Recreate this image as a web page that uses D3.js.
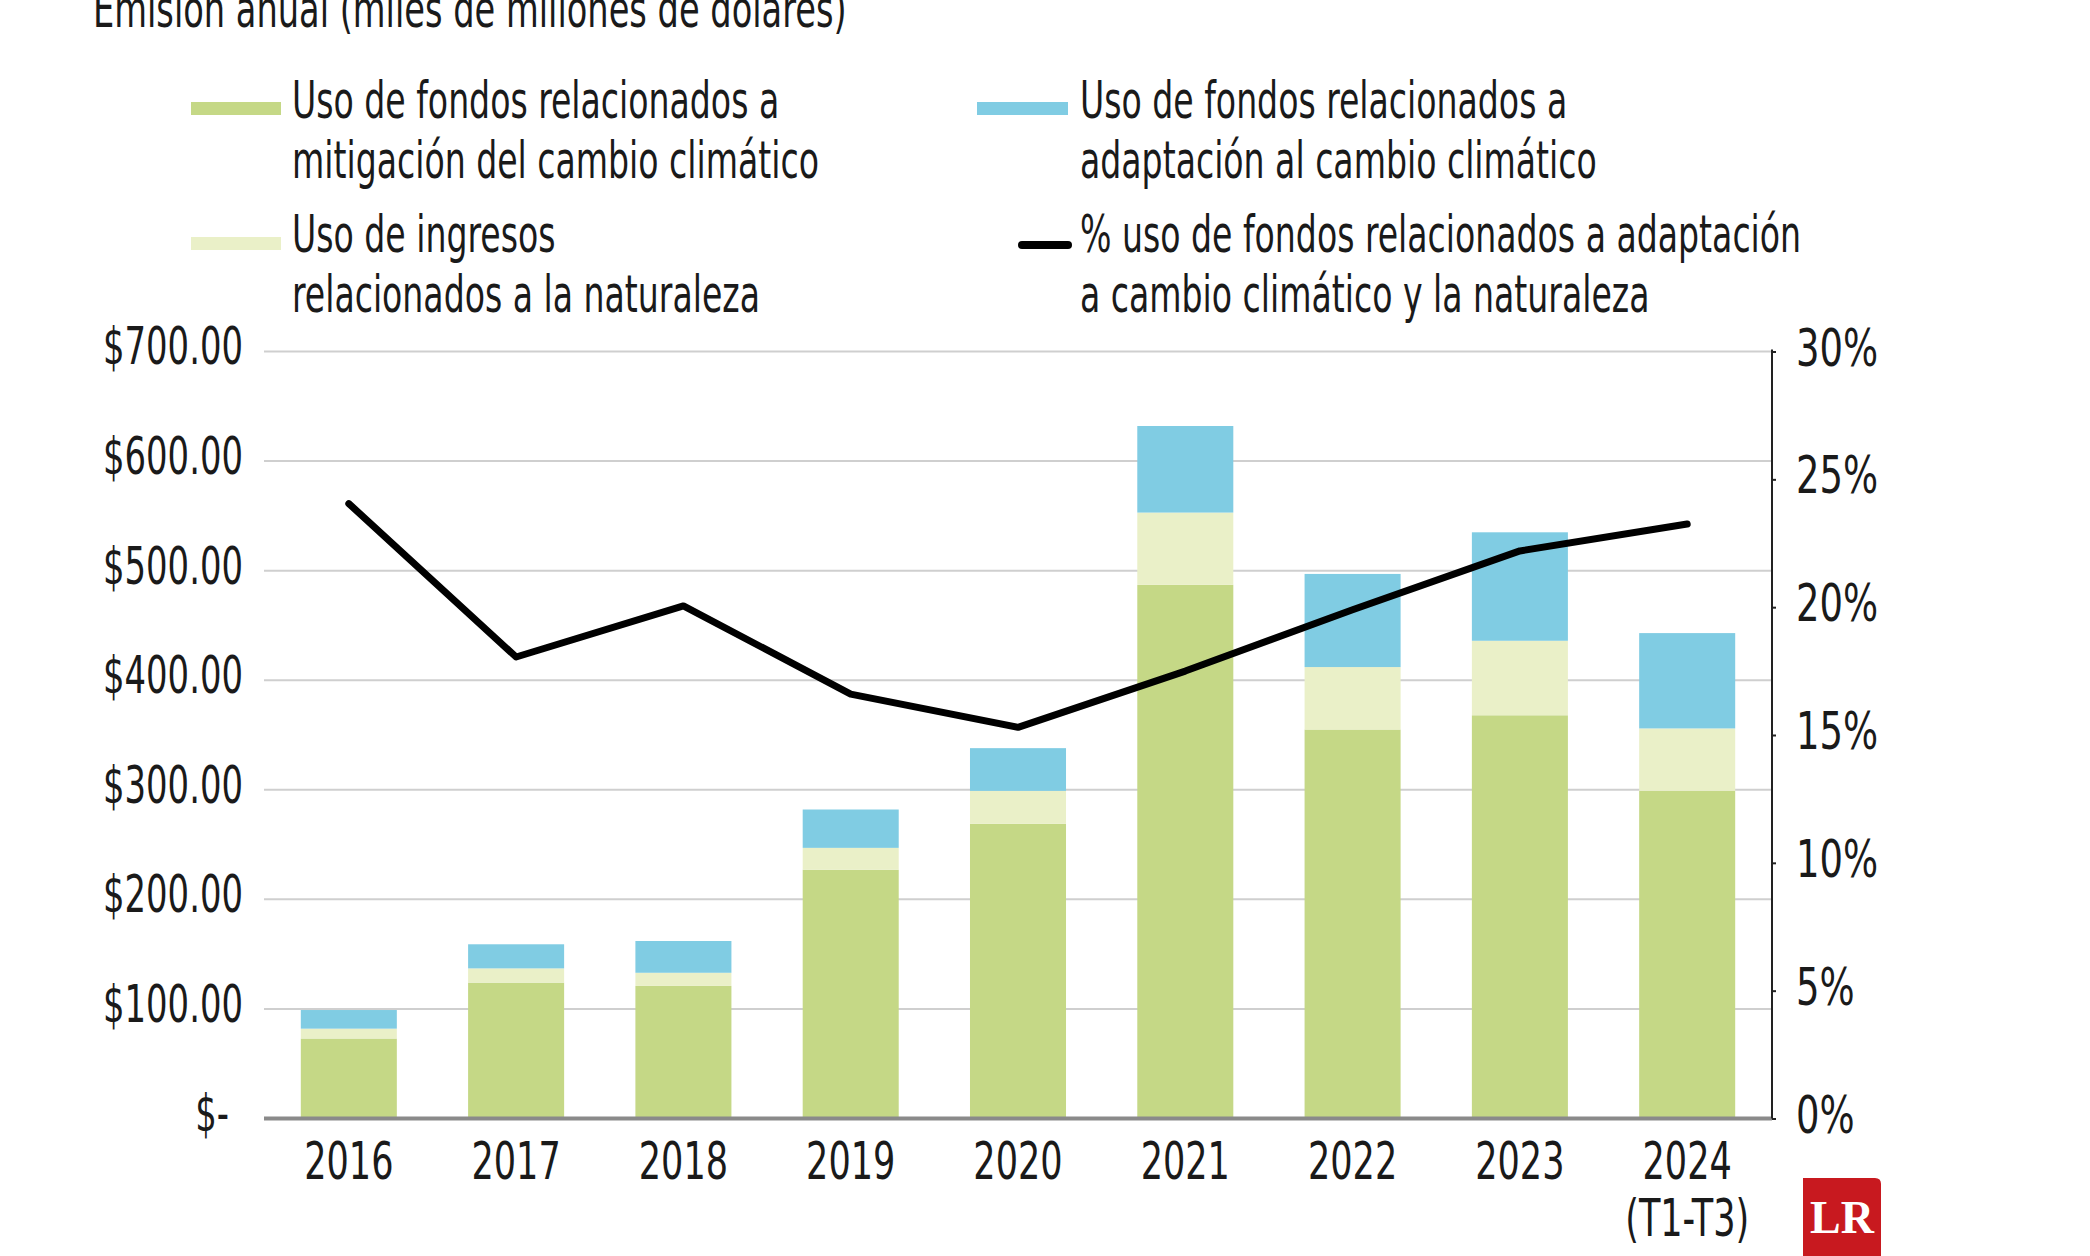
<!DOCTYPE html>
<html>
<head>
<meta charset="utf-8">
<script src="https://cdn.jsdelivr.net/npm/d3@7"></script>
<style>
  html, body { margin: 0; padding: 0; background: #ffffff; }
  svg { display: block; }
  text { font-family: "Liberation Sans Narrow", "DejaVu Sans Condensed", "Arial Narrow", sans-serif; fill: #1a1a1a; }
</style>
</head>
<body>
<svg id="chart" width="2090" height="1256"></svg>
<script>
// ---------- data ----------
const years = ["2016", "2017", "2018", "2019", "2020", "2021", "2022", "2023", "2024"];
const yearSubLabels = ["", "", "", "", "", "", "", "", "(T1-T3)"];
const mitigation = [73, 124, 121, 227, 269, 487, 355, 368, 299];
const nature = [9, 13, 12, 20, 30, 66, 57, 68, 57];
const adaptation = [17, 22, 29, 35, 39, 79, 85, 99, 87];
const pctAdaptNature = [24.05, 18.05, 20.05, 16.6, 15.3, 17.5, 19.9, 22.2, 23.25];
const leftTicks = [0, 100, 200, 300, 400, 500, 600, 700];
const leftTickLabels = ["$-", "$100.00", "$200.00", "$300.00", "$400.00", "$500.00", "$600.00", "$700.00"];
const rightTicks = [0, 5, 10, 15, 20, 25, 30];
const rightTickLabels = ["0%", "5%", "10%", "15%", "20%", "25%", "30%"];
const seriesKeys = ["mitigation", "nature", "adaptation"];
const seriesNames = [
  ["Uso de fondos relacionados a", "mitigación del cambio climático"],
  ["Uso de ingresos", "relacionados a la naturaleza"],
  ["Uso de fondos relacionados a", "adaptación al cambio climático"]
];
const lineName = ["% uso de fondos relacionados a adaptación", "a cambio climático y la naturaleza"];
const titleText = "Emisión anual (miles de millones de dólares)";

// ---------- styles ----------
const colors = { mitigation: "#c5d886", nature: "#eaf0c8", adaptation: "#80cce3" };
const FS = 52;

const svg = d3.select("#chart");
const pLeft = 264, pRight = 1772, pTop = 351.5, pBottom = 1118.5;

const x = d3.scaleBand().domain(years).range([pLeft, pRight]).paddingInner(0.426).paddingOuter(0.22);
const y = d3.scaleLinear().domain([0, 700]).range([pBottom, pTop]);
const y2 = d3.scaleLinear().domain([0, 30]).range([pBottom, pTop]);

function condense(sel, k) {
  sel.each(function () {
    const w = this.getComputedTextLength();
    if (w > 0) {
      d3.select(this).attr("textLength", w * k).attr("lengthAdjust", "spacingAndGlyphs");
    }
  });
}

// gridlines
svg.append("g").selectAll("line").data(leftTicks.filter(d => d > 0)).join("line")
  .attr("x1", pLeft).attr("x2", pRight)
  .attr("y1", d => y(d)).attr("y2", d => y(d))
  .attr("stroke", "#cfcfcf").attr("stroke-width", 2);

// stacked bars
const table = years.map((yr, i) => ({ year: yr, mitigation: mitigation[i], nature: nature[i], adaptation: adaptation[i] }));
const stack = d3.stack().keys(seriesKeys)(table);
svg.append("g").selectAll("g").data(stack).join("g")
  .attr("fill", d => colors[d.key])
  .selectAll("rect").data(d => d).join("rect")
  .attr("x", d => x(d.data.year))
  .attr("width", x.bandwidth())
  .attr("y", d => y(d[1]))
  .attr("height", d => y(d[0]) - y(d[1]));

// baseline
svg.append("line").attr("x1", pLeft).attr("x2", pRight).attr("y1", pBottom).attr("y2", pBottom)
  .attr("stroke", "#8a8a8a").attr("stroke-width", 4);

// left axis labels
const leftAxis = d3.axisLeft(y).tickValues(leftTicks).tickSize(0).tickPadding(21)
  .tickFormat((d, i) => leftTickLabels[i]);
const gl = svg.append("g").attr("transform", `translate(${pLeft},0)`).call(leftAxis);
gl.attr("font-family", null);
gl.select(".domain").remove();
gl.selectAll("text").attr("font-size", FS).attr("fill", "#1a1a1a")
  .attr("dx", (d, i) => i === 0 ? -14 : 0).attr("dy", "0.24em");

// right axis
const rightAxis = d3.axisRight(y2).tickValues(rightTicks).tickSize(4).tickPadding(20)
  .tickFormat((d, i) => rightTickLabels[i]);
const gr = svg.append("g").attr("transform", `translate(${pRight},0)`).call(rightAxis);
gr.attr("font-family", null);
gr.select(".domain").attr("stroke", "#222").attr("stroke-width", 2).attr("d", `M0,${pTop - 2}V${pBottom}`);
gr.selectAll(".tick line").attr("stroke", "#222").attr("stroke-width", 2);
gr.selectAll("text").attr("font-size", FS).attr("fill", "#1a1a1a").attr("dy", "0.26em");

// x labels
const xl = svg.append("g");
xl.selectAll("text.yr").data(years).join("text").attr("class", "yr")
  .attr("x", d => x(d) + x.bandwidth() / 2).attr("y", 1179)
  .attr("text-anchor", "middle").attr("font-size", FS).text(d => d);
xl.selectAll("text.sub").data(yearSubLabels.map((s, i) => ({ s, yr: years[i] })).filter(d => d.s)).join("text").attr("class", "sub")
  .attr("x", d => x(d.yr) + x.bandwidth() / 2).attr("y", 1236)
  .attr("text-anchor", "middle").attr("font-size", FS).text(d => d.s);

// line
const line = d3.line().x((d, i) => x(years[i]) + x.bandwidth() / 2).y(d => y2(d));
svg.append("path").datum(pctAdaptNature).attr("d", line)
  .attr("fill", "none").attr("stroke", "#000").attr("stroke-width", 7)
  .attr("stroke-linejoin", "round").attr("stroke-linecap", "round");

// title
const title = svg.append("text").attr("x", 93).attr("y", 27).attr("font-size", FS).text(titleText);

// legend
const lg = svg.append("g");
function legendText(xp, y0, lines) {
  lines.forEach((t, j) => {
    lg.append("text").attr("x", xp).attr("y", y0 + j * 60).attr("font-size", FS).text(t);
  });
}
lg.append("rect").attr("x", 191).attr("y", 102).attr("width", 90).attr("height", 13).attr("fill", colors.mitigation);
legendText(292, 118, seriesNames[0]);
lg.append("rect").attr("x", 191).attr("y", 237).attr("width", 90).attr("height", 13).attr("fill", colors.nature);
legendText(292, 252, seriesNames[1]);
lg.append("rect").attr("x", 977).attr("y", 102).attr("width", 91).attr("height", 13).attr("fill", colors.adaptation);
legendText(1080, 118, seriesNames[2]);
lg.append("line").attr("x1", 1022).attr("x2", 1068).attr("y1", 245).attr("y2", 245)
  .attr("stroke", "#000").attr("stroke-width", 8).attr("stroke-linecap", "round");
legendText(1080, 252, lineName);

// logo
const logo = svg.append("g");
logo.append("path").attr("d", "M1803,1256V1178H1875Q1881,1178 1881,1184V1256Z").attr("fill", "#c8191f");
logo.append("text").attr("class", "logo").attr("x", 1842).attr("y", 1233).attr("text-anchor", "middle")
  .attr("font-weight", "bold").attr("font-size", 46)
  .style("font-family", "'Liberation Serif', 'DejaVu Serif', serif").style("fill", "#ffffff").text("LR");

// condense text to match the narrow typeface of the original
condense(title, 0.719);
condense(lg.selectAll("text"), 0.708);
condense(gl.selectAll("text"), 0.724);
condense(xl.selectAll("text"), 0.75);
condense(gr.selectAll("text"), 0.79);
</script>
</body>
</html>
